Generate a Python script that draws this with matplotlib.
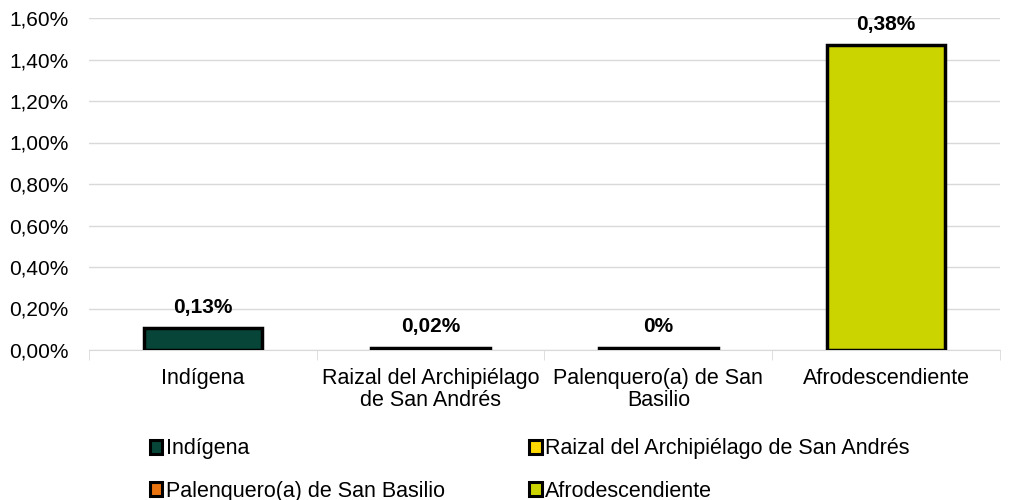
import numpy as np
import matplotlib.pyplot as plt
from matplotlib.ticker import FuncFormatter, FixedLocator
from matplotlib.patches import Patch

plt.rcParams['font.family'] = ['Liberation Sans', 'DejaVu Sans']

categories = ['Indígena', 'Raizal del Archipiélago\nde San Andrés', 'Palenquero(a) de San\nBasilio', 'Afrodescendiente']
legend_names = ['Indígena', 'Raizal del Archipiélago de San Andrés', 'Palenquero(a) de San Basilio', 'Afrodescendiente']
values = [0.105, 0.012, 0.012, 1.47]
labels = ['0,13%', '0,02%', '0%', '0,38%']
colors = ['#064537', '#ffd800', '#e8730f', '#ccd400']

fig = plt.figure(figsize=(10.13, 5.0), dpi=100)
ax = fig.add_axes([0.088, 0.30, 0.899, 0.664])

x = np.arange(len(categories))
ax.bar(x, values, width=0.52, color=colors, edgecolor='black', linewidth=2.5, zorder=3)

for xi, v, lab in zip(x, values, labels):
    ax.text(xi, v + 0.055, lab, ha='center', va='bottom', fontsize=15, fontweight='bold')

ax.set_xlim(-0.5, 3.5)
ax.set_ylim(0, 1.6)
ax.set_yticks(np.arange(0, 1.61, 0.2))
ax.yaxis.set_major_formatter(FuncFormatter(lambda v, p: f'{v:.2f}%'.replace('.', ',')))
ax.grid(axis='y', color='#d9d9d9', linewidth=1, zorder=0)
ax.set_xticks(x)
ax.set_xticklabels(categories, fontsize=15.5, linespacing=1.05)
ax.xaxis.set_minor_locator(FixedLocator([-0.5, 0.5, 1.5, 2.5, 3.5]))
ax.tick_params(axis='x', which='major', length=0, pad=13)
ax.tick_params(axis='x', which='minor', length=7, color='#d9d9d9')
ax.tick_params(axis='y', length=0, labelsize=15, pad=15)
for s in ['top', 'right', 'left']:
    ax.spines[s].set_visible(False)
ax.spines['bottom'].set_color('#d9d9d9')

# legend filled row-wise like the original
order = [0, 2, 1, 3]
handles = [Patch(facecolor=colors[i], edgecolor='black', linewidth=2.2) for i in order]
fig.legend(handles, [legend_names[i] for i in order], loc='upper left',
           bbox_to_anchor=(0.137, 0.145), ncol=2, frameon=False, fontsize=15.5,
           handlelength=0.6, handleheight=0.6, handletextpad=0.15,
           columnspacing=3.9, labelspacing=1.0, borderpad=0)

fig.savefig('out.png', dpi=100)
